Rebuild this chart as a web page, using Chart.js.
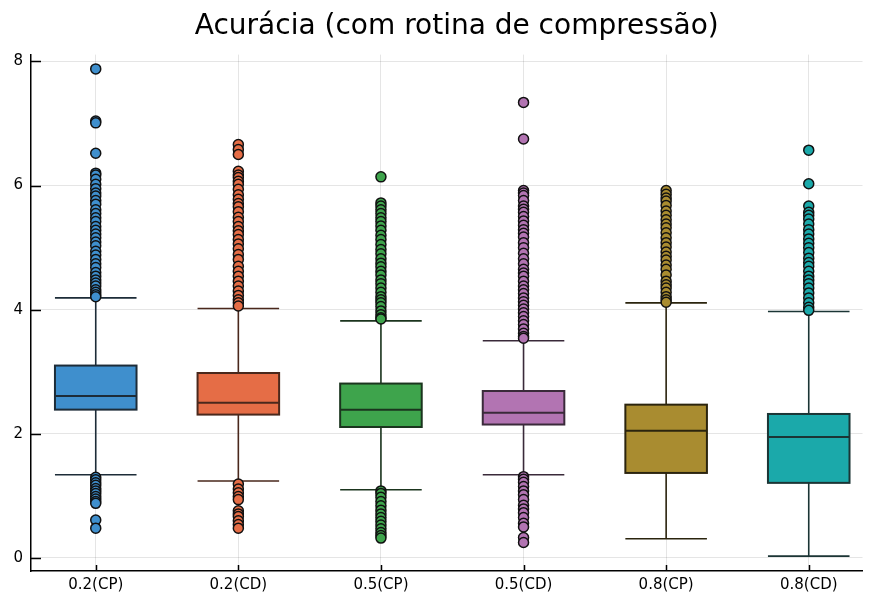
<!DOCTYPE html>
<html>
<head>
<meta charset="utf-8">
<script src="https://cdn.jsdelivr.net/npm/chart.js@4"></script>
<style>
  html, body { margin: 0; padding: 0; background: #fff; }
  #wrap { width: 869px; height: 596px; }
</style>
</head>
<body>
<div id="wrap"><canvas id="c" width="869" height="596"></canvas></div>
<script>
// Groups along the x axis
const categories = ['0.2(CP)', '0.2(CD)', '0.5(CP)', '0.5(CD)', '0.8(CP)', '0.8(CD)'];

// Five-number summaries per group
const lowerWhisker = [1.34, 1.24, 1.10, 1.34, 0.31, 0.03];
const q1           = [2.39, 2.31, 2.11, 2.15, 1.37, 1.21];
const median       = [2.61, 2.50, 2.39, 2.34, 2.05, 1.95];
const q3           = [3.10, 2.98, 2.81, 2.69, 2.47, 2.32];
const upperWhisker = [4.19, 4.02, 3.82, 3.50, 4.11, 3.97];

// Outliers per group
const outliers02CP = [7.88, 7.04, 7.01, 6.52, 6.20, 6.17, 6.10, 6.02, 5.95, 5.88, 5.83, 5.76, 5.70, 5.61, 5.55,
  5.48, 5.42, 5.34, 5.28, 5.22, 5.16, 5.09, 5.03, 4.94, 4.88, 4.81, 4.74, 4.68, 4.60, 4.54, 4.48, 4.43, 4.38,
  4.32, 4.28, 4.24, 4.21,
  1.30, 1.26, 1.21, 1.17, 1.12, 1.08, 1.04, 0.99, 0.95, 0.91, 0.88, 0.61, 0.48];
const outliers02CD = [6.66, 6.58, 6.50, 6.23, 6.17, 6.13, 6.07, 6.02, 5.94, 5.85, 5.78, 5.71, 5.66, 5.58, 5.49,
  5.42, 5.34, 5.27, 5.21, 5.13, 5.06, 4.98, 4.89, 4.81, 4.70, 4.62, 4.54, 4.46, 4.38, 4.30, 4.23, 4.16, 4.11, 4.06,
  1.19, 1.11, 1.05, 0.99, 0.94, 0.76, 0.71, 0.67, 0.60, 0.54, 0.48];
const outliers05CP = [6.14, 5.72, 5.67, 5.61, 5.55, 5.48, 5.42, 5.35, 5.28, 5.20, 5.13, 5.05, 4.97, 4.90, 4.82,
  4.75, 4.69, 4.62, 4.56, 4.48, 4.42, 4.35, 4.28, 4.21, 4.16, 4.11, 4.05, 3.98, 3.92, 3.87, 3.85,
  1.08, 1.04, 0.98, 0.91, 0.84, 0.77, 0.71, 0.65, 0.59, 0.53, 0.47, 0.41, 0.36, 0.32];
const outliers05CD = [7.34, 6.75, 5.92, 5.88, 5.84, 5.76, 5.67, 5.62, 5.57, 5.50, 5.43, 5.36, 5.29, 5.23, 5.17,
  5.08, 5.00, 4.91, 4.82, 4.74, 4.65, 4.59, 4.54, 4.46, 4.38, 4.32, 4.26, 4.19, 4.13, 4.07, 4.01, 3.95, 3.89,
  3.82, 3.76, 3.69, 3.62, 3.57, 3.54,
  1.31, 1.27, 1.22, 1.15, 1.08, 1.02, 0.94, 0.85, 0.79, 0.73, 0.65, 0.56, 0.50, 0.33, 0.25];
const outliers08CP = [5.92, 5.86, 5.80, 5.75, 5.68, 5.59, 5.52, 5.45, 5.38, 5.32, 5.24, 5.16, 5.08, 5.01, 4.93,
  4.86, 4.80, 4.72, 4.65, 4.56, 4.46, 4.40, 4.35, 4.28, 4.21, 4.16, 4.12];
const outliers08CD = [6.57, 6.03, 5.67, 5.57, 5.52, 5.46, 5.38, 5.29, 5.22, 5.14, 5.07, 5.00, 4.92, 4.83, 4.76,
  4.70, 4.62, 4.54, 4.48, 4.42, 4.35, 4.27, 4.19, 4.11, 4.04, 3.99];
const outlierGroups = [outliers02CP, outliers02CD, outliers05CP, outliers05CD, outliers08CP, outliers08CD];

// Axis tick values
const yTicks = [0, 2, 4, 6, 8];

// Fill and edge colours per group
const fillColors = ['#3f8fcd', '#e56d46', '#3ea44c', '#b274b2', '#a98c30', '#1ba9aa'];
const edgeColors = ['#1d2c38', '#4a281c', '#1b351e', '#3a2a3a', '#2b240e', '#1b3535'];

const boxHalfWidth = 0.286;   // in x-axis units

// Draws boxes, whiskers and caps using the chart's scales
const boxPlugin = {
  id: 'boxes',
  beforeDatasetsDraw(chart) {
    const { ctx, scales: { x, y } } = chart;
    ctx.save();
    categories.forEach((cat, i) => {
      const xc = x.getPixelForValue(i);
      const xl = x.getPixelForValue(i - boxHalfWidth);
      const xr = x.getPixelForValue(i + boxHalfWidth);
      const yq1 = y.getPixelForValue(q1[i]);
      const yq3 = y.getPixelForValue(q3[i]);
      const ymed = y.getPixelForValue(median[i]);
      const ylo = y.getPixelForValue(lowerWhisker[i]);
      const yhi = y.getPixelForValue(upperWhisker[i]);
      ctx.strokeStyle = edgeColors[i];
      ctx.lineWidth = 1.6;
      // whiskers
      ctx.beginPath();
      ctx.moveTo(xc, yq3); ctx.lineTo(xc, yhi);
      ctx.moveTo(xc, yq1); ctx.lineTo(xc, ylo);
      ctx.moveTo(xl, yhi); ctx.lineTo(xr, yhi);
      ctx.moveTo(xl, ylo); ctx.lineTo(xr, ylo);
      ctx.stroke();
      // box
      ctx.fillStyle = fillColors[i];
      ctx.fillRect(xl, yq3, xr - xl, yq1 - yq3);
      ctx.lineWidth = 2;
      ctx.strokeRect(xl, yq3, xr - xl, yq1 - yq3);
      // median
      ctx.beginPath();
      ctx.moveTo(xl, ymed); ctx.lineTo(xr, ymed);
      ctx.stroke();
    });
    ctx.restore();
  }
};

// Inward-pointing tick marks on the left and bottom axes
const innerTicks = {
  id: 'innerTicks',
  beforeDatasetsDraw(chart) {
    const { ctx, chartArea: a, scales: { x, y } } = chart;
    ctx.save();
    ctx.strokeStyle = '#000';
    ctx.lineWidth = 1.5;
    ctx.beginPath();
    yTicks.forEach(v => {
      const py = Math.round(y.getPixelForValue(v)) + 0.5;
      ctx.moveTo(a.left, py); ctx.lineTo(a.left + 10, py);
    });
    categories.forEach((c, i) => {
      const px = Math.round(x.getPixelForValue(i)) + 0.5;
      ctx.moveTo(px, a.bottom); ctx.lineTo(px, a.bottom - 6);
    });
    ctx.stroke();
    ctx.restore();
  }
};

// Moves the title block a little to the right of the default centre
const titleOffset = {
  id: 'titleOffset',
  afterLayout(chart) {
    const t = chart.titleBlock;
    if (t) { t.left += 10; t.right += 10; }
  }
};

const datasets = outlierGroups.map((vals, i) => ({
  label: categories[i],
  data: vals.map(v => ({ x: i, y: v })),
  pointRadius: 5,
  pointBorderWidth: 1.5,
  pointBackgroundColor: fillColors[i],
  pointBorderColor: '#111',
  showLine: false
}));

new Chart(document.getElementById('c'), {
  type: 'scatter',
  data: { datasets },
  options: {
    responsive: false,
    animation: false,
    layout: { padding: { left: 0, right: 3, top: 0, bottom: 0 } },
    plugins: {
      legend: { display: false },
      tooltip: { enabled: false },
      title: {
        display: true,
        text: 'Acurácia (com rotina de compressão)',
        fullSize: false,
        color: '#000',
        font: { family: 'DejaVu Sans', size: 28, weight: 'normal' },
        padding: { top: 10, bottom: 11 }
      }
    },
    scales: {
      x: {
        type: 'linear',
        min: -0.454,
        max: 5.377,
        afterBuildTicks: s => { s.ticks = categories.map((c, i) => ({ value: i })); },
        afterFit: s => { s.height = 25; },
        ticks: {
          callback: v => categories[v],
          color: '#000',
          font: { family: 'DejaVu Sans', size: 15 },
          padding: 5,
          maxRotation: 0
        },
        grid: { color: 'rgba(0,0,0,0.1)', lineWidth: 1, drawTicks: false },
        border: { color: '#000', width: 1.5 }
      },
      y: {
        min: -0.21,
        max: 8.11,
        afterBuildTicks: s => { s.ticks = yTicks.map(v => ({ value: v })); },
        afterFit: s => { s.width = 31; },
        ticks: {
          color: '#000',
          font: { family: 'DejaVu Sans', size: 15 },
          padding: 8
        },
        grid: { color: 'rgba(0,0,0,0.1)', lineWidth: 1, drawTicks: false },
        border: { color: '#000', width: 1.5 }
      }
    }
  },
  plugins: [boxPlugin, innerTicks, titleOffset]
});
</script>
</body>
</html>
